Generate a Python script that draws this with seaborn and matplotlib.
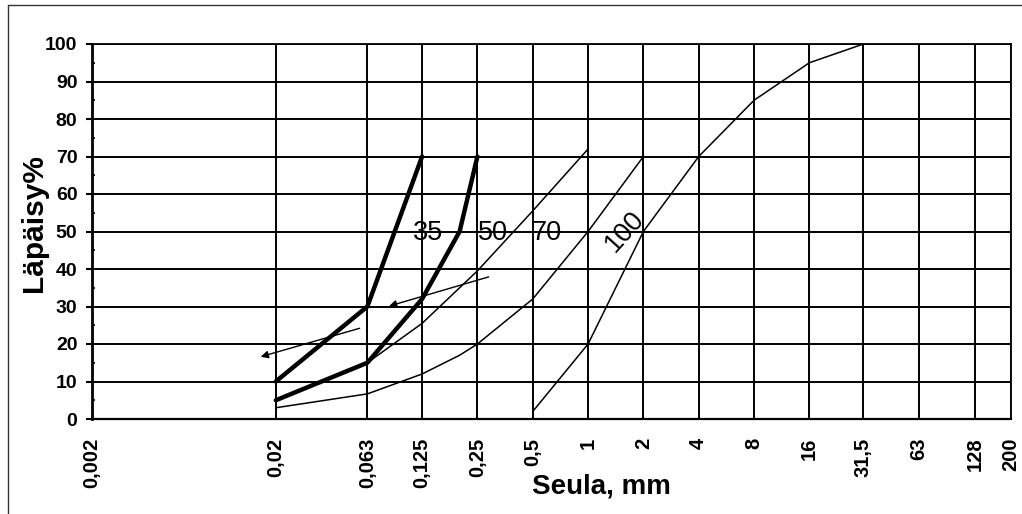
import matplotlib
matplotlib.use("Agg")
import matplotlib.pyplot as plt
from matplotlib.lines import Line2D
from matplotlib.ticker import FixedLocator, NullLocator, FixedFormatter
import seaborn as sns
import pandas as pd

# ---------------- data ----------------
sieve_ticks = [0.002, 0.02, 0.063, 0.125, 0.25, 0.5, 1, 2, 4, 8, 16, 31.5, 63, 128, 200]
sieve_labels = ["0,002", "0,02", "0,063", "0,125", "0,25", "0,5", "1", "2", "4",
                "8", "16", "31,5", "63", "128", "200"]
y_ticks = [0, 10, 20, 30, 40, 50, 60, 70, 80, 90, 100]

# thick curves
curve_35_x = [0.02, 0.063, 0.125]
curve_35_y = [10, 30, 70]
curve_50_x = [0.02, 0.063, 0.125, 0.2, 0.25]
curve_50_y = [5, 15, 32, 50, 70]
# thin curves
curve_70_x = [0.063, 0.125, 0.25, 0.5, 1]
curve_70_y = [15, 25.5, 39.5, 55.5, 72]
curve_c_x = [0.02, 0.063, 0.125, 0.2, 0.25, 0.5, 1, 2]
curve_c_y = [3, 6.7, 12, 17, 20, 32, 50, 70]
curve_100_x = [0.5, 1, 2, 4, 8, 16, 31.5]
curve_100_y = [2, 20, 50, 70, 85, 95, 100]

# curve labels
label_text = ["35", "50", "70", "100"]
label_x = [0.1346, 0.303, 0.596, 1.59]
label_y = [49.6, 49.6, 49.6, 50]
label_rot = [0, 0, 0, 48]

# arrows (tail -> head)
arrow_tail_x = [0.0572, 0.288]
arrow_tail_y = [24.2, 37.9]
arrow_head_x = [0.01655, 0.0826]
arrow_head_y = [16.6, 30.1]

# ---------------- style ----------------
sns.set_theme(style="white")
plt.rcParams['font.family'] = ['Liberation Sans', 'DejaVu Sans']

fig = plt.figure(figsize=(10.22, 5.14), dpi=100)
W, H = 1022, 514
ax = fig.add_axes([92 / W, 1 - 419 / H, (1011 - 92) / W, (419 - 44) / H])

series = [
    (curve_35_x, curve_35_y, 3.2),
    (curve_50_x, curve_50_y, 3.2),
    (curve_70_x, curve_70_y, 1.1),
    (curve_c_x, curve_c_y, 1.1),
    (curve_100_x, curve_100_y, 1.1),
]
for xs, ys, lw in series:
    df = pd.DataFrame({"x": xs, "y": ys})
    sns.lineplot(data=df, x="x", y="y", ax=ax, color="black", linewidth=lw,
                 sort=False, estimator=None, zorder=3)

ax.set_xscale("log")
ax.set_xlim(0.002, 200)
ax.set_ylim(0, 100)

ax.xaxis.set_major_locator(FixedLocator(sieve_ticks))
ax.xaxis.set_major_formatter(FixedFormatter(sieve_labels))
ax.xaxis.set_minor_locator(NullLocator())
ax.set_yticks(y_ticks)
ax.set_yticks([v + 5 for v in y_ticks[:-1]], minor=True)

ax.grid(True, which="major", color="black", linewidth=1.4, zorder=1)
ax.grid(False, which="minor")
ax.set_axisbelow(True)

ax.tick_params(axis="x", which="major", length=0, pad=13.5, labelsize=14.5,
               labelrotation=90)
ax.tick_params(axis="y", which="major", direction="out", length=4.5, width=1.5,
               color="black", pad=6, labelsize=14, left=True)
ax.tick_params(axis="y", which="minor", direction="in", length=2.5, width=1.2,
               color="black", left=True)
for lab in ax.get_xticklabels() + ax.get_yticklabels():
    lab.set_fontweight("bold")
    lab.set_color("black")

for side, lw in [("left", 2.0), ("bottom", 1.6), ("top", 1.3), ("right", 1.3)]:
    ax.spines[side].set_visible(True)
    ax.spines[side].set_color("black")
    ax.spines[side].set_linewidth(lw)

ax.set_xlabel("Seula, mm", fontsize=20, fontweight="bold", color="black")
ax.set_ylabel("Läpäisy%", fontsize=21.5, fontweight="bold", color="black")
ax.xaxis.set_label_coords((601 - 92) / 919, (419 - 486) / 375)
ax.xaxis.label.set_verticalalignment("center")
ax.yaxis.set_label_coords((34 - 92) / 919, (419 - 223) / 375)
ax.yaxis.label.set_verticalalignment("center")

for t, x, y, r in zip(label_text, label_x, label_y, label_rot):
    ax.text(x, y, t, fontsize=19.5, color="black", ha="center", va="center",
            rotation=r, rotation_mode="anchor", zorder=4)

for tx, ty, hx, hy in zip(arrow_tail_x, arrow_tail_y, arrow_head_x, arrow_head_y):
    ax.annotate("", xy=(hx, hy), xytext=(tx, ty),
                arrowprops=dict(arrowstyle="-|>", color="black", lw=1.0,
                                mutation_scale=11, shrinkA=0, shrinkB=0),
                zorder=4)

# outer frame (partially visible)
fig.add_artist(Line2D([8 / W, 1.0], [1 - 5 / H, 1 - 5 / H], transform=fig.transFigure,
                      color="#333333", linewidth=1.0))
fig.add_artist(Line2D([8 / W, 8 / W], [0.0, 1 - 5 / H], transform=fig.transFigure,
                      color="#333333", linewidth=1.0))

fig.savefig("out.png", dpi=100)
